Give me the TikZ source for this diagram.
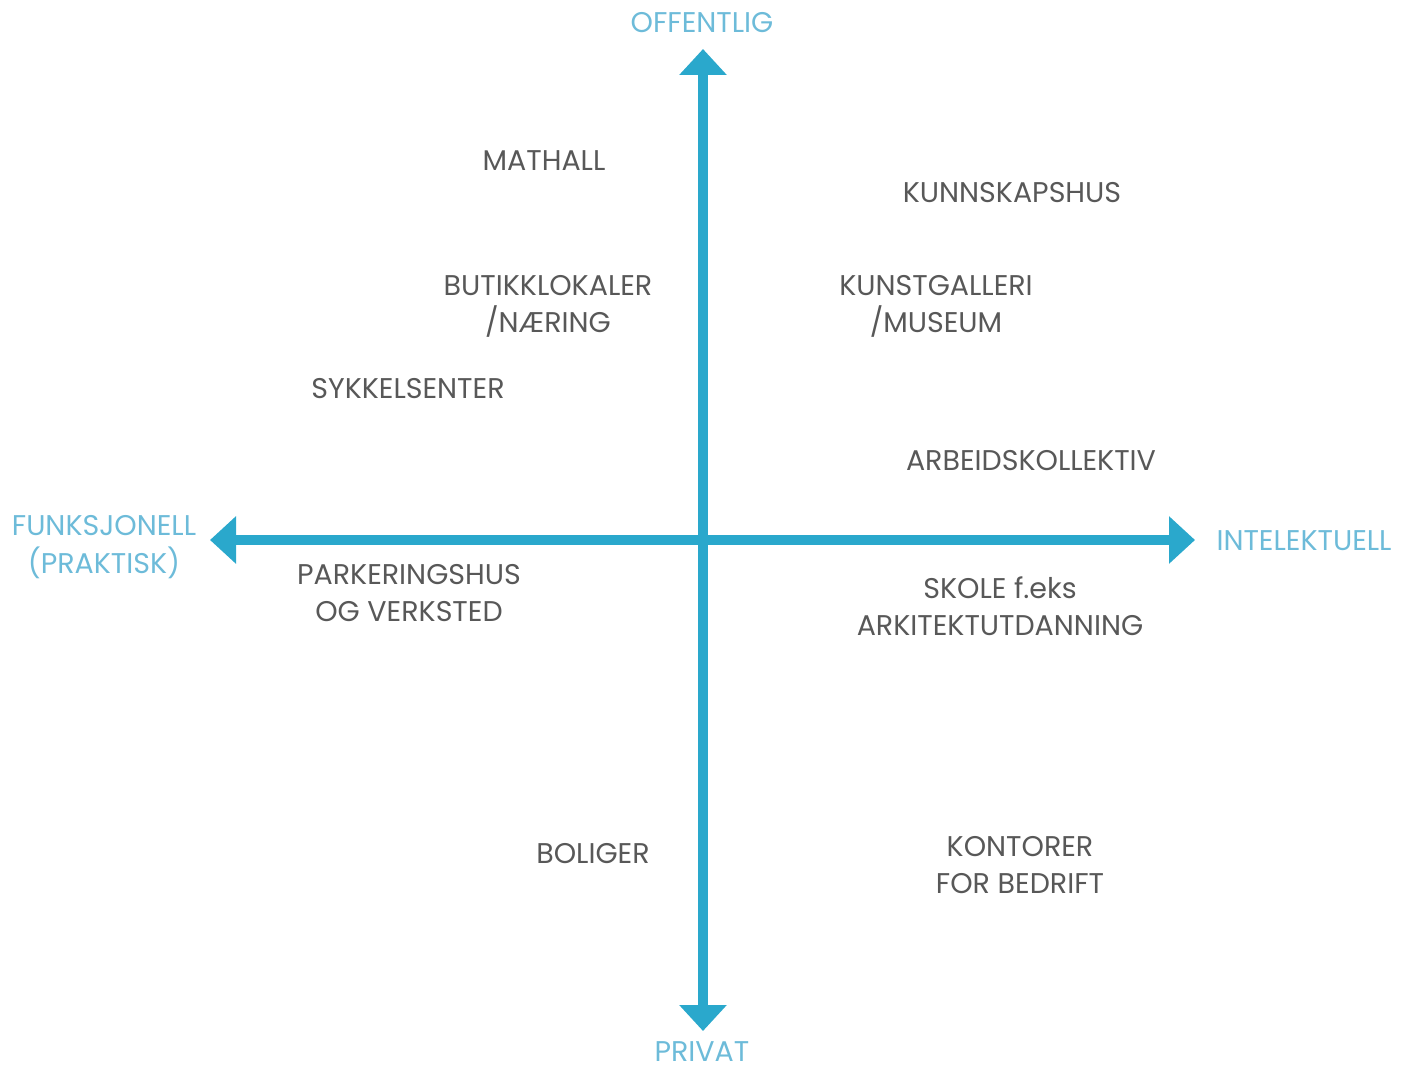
\documentclass[tikz,border=0pt]{standalone}
\usepackage{fontspec}
\setmainfont{Poppins}
\usetikzlibrary{arrows.meta}
\definecolor{axisblue}{HTML}{2AA8CC}
\definecolor{labelblue}{HTML}{6DBBD9}
\definecolor{txtgray}{HTML}{585858}
\begin{document}
\begin{tikzpicture}[x=1pt,y=-1pt,
  item/.style={text=txtgray,align=center,font=\fontsize{28.5}{37}\selectfont,inner sep=0pt},
  axislabel/.style={text=labelblue,align=center,font=\fontsize{28.5}{38}\selectfont,inner sep=0pt},
  axisline/.style={draw=axisblue,line width=10pt,{Triangle[width=46pt,length=26pt]}-{Triangle[width=46pt,length=26pt]}}]
\useasboundingbox (0,0) rectangle (1410,1070);
\coordinate (top) at (703,49);
\coordinate (bottom) at (703,1031);
\coordinate (left) at (210,540);
\coordinate (right) at (1195,540);
\draw[axisline] (top) -- (bottom);
\draw[axisline] (left) -- (right);
\node[axislabel] (offentlig) at (702,23) {OFFENTLIG};
\node[axislabel] (privat) at (702,1052) {PRIVAT};
\node[axislabel] (funk) at (104,547) {FUNKSJONELL\\(PRAKTISK)};
\node[axislabel] (intel) at (1304,541) {INTELEKTUELL};
\node[item] (mathall) at (544,161) {MATHALL};
\node[item] (kunnskap) at (1012,193) {KUNNSKAPSHUS};
\node[item] (butikk) at (548,306) {BUTIKKLOKALER\\/NÆRING};
\node[item] (kunst) at (936,306) {KUNSTGALLERI\\/MUSEUM};
\node[item] (sykkel) at (408,389) {SYKKELSENTER};
\node[item] (arbeid) at (1031,461) {ARBEIDSKOLLEKTIV};
\node[item] (parkering) at (409,593) {PARKERINGSHUS\\OG VERKSTED};
\node[item] (skole) at (1000,606) {SKOLE f.eks\\ARKITEKTUTDANNING};
\node[item] (boliger) at (593,854) {BOLIGER};
\node[item] (kontorer) at (1020,865) {KONTORER\\FOR BEDRIFT};
\end{tikzpicture}
\end{document}
